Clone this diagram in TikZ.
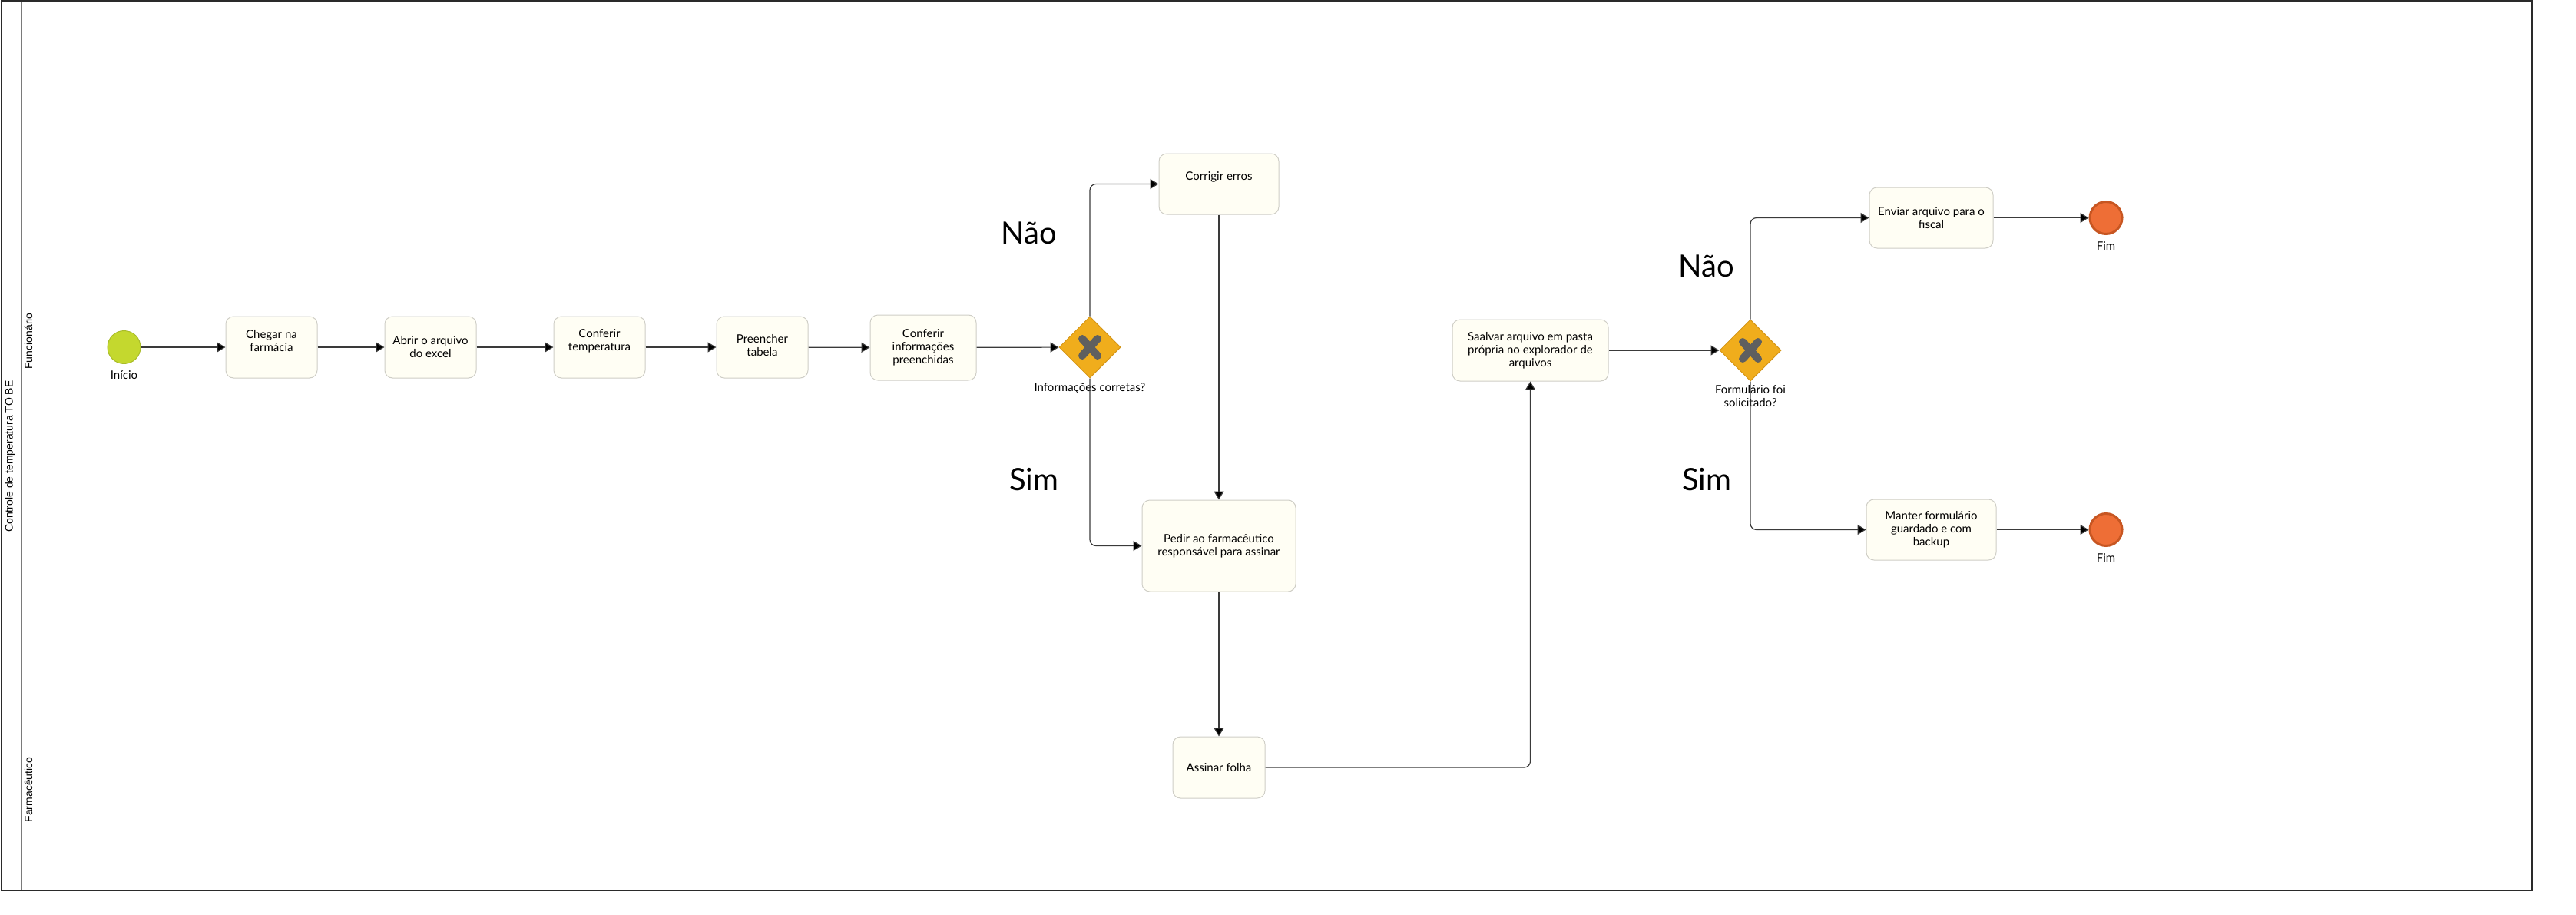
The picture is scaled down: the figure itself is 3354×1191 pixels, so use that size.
\documentclass[tikz,border=0pt]{standalone}
\usepackage{fontspec}
\setmainfont{Lato}
\newfontfamily\lanefont{Liberation Sans}
\usetikzlibrary{shapes.geometric,arrows.meta}
\definecolor{taskfill}{HTML}{FFFEF4}
\definecolor{taskline}{HTML}{CFCEC6}
\definecolor{gwfill}{HTML}{F0AD1C}
\definecolor{gwline}{HTML}{D4961A}
\definecolor{gwx}{HTML}{5F5F5F}
\definecolor{startfill}{HTML}{C4D82E}
\definecolor{startline}{HTML}{A9BC2A}
\definecolor{endfill}{HTML}{EE6E36}
\definecolor{endline}{HTML}{C75622}
\definecolor{flowcol}{HTML}{3A3A3A}
\definecolor{framecol}{HTML}{2A2A2A}
\definecolor{lanecol}{HTML}{7A7A7A}
\tikzset{
  task/.style={draw=taskline, fill=taskfill, rounded corners=10pt, line width=1pt, inner sep=0pt},
  tt/.style={font=\fontsize{15}{17}\selectfont, align=center, text=black},
  gate/.style={diamond, draw=gwline, fill=gwfill, line width=1pt, minimum width=80pt, minimum height=80pt, inner sep=0pt},
  startev/.style={circle, draw=startline, fill=startfill, line width=1pt, minimum size=43pt, inner sep=0pt},
  endev/.style={circle, draw=endline, fill=endfill, line width=3pt, minimum size=42pt, inner sep=0pt},
  flow/.style={draw=flowcol, line width=1.2pt, rounded corners=8pt, -{Triangle[length=11pt,width=13pt,fill=black]}},
  evlabel/.style={font=\fontsize{15}{17}\selectfont, align=center},
  big/.style={font=\fontsize{40}{44}\selectfont, inner sep=0pt},
  lanelabel/.style={font=\lanefont\fontsize{14}{16}\selectfont, rotate=90},
}
\begin{document}
\begin{tikzpicture}[x=1pt, y=-1pt]
\useasboundingbox (0,0) rectangle (3354,1191);
% pool and lanes
\draw[lanecol, line width=1pt] (28,895) -- (3297,895);
\draw[lanecol, line width=1.5pt] (28,1) -- (28,1159);
\draw[framecol, line width=2pt] (2,1) rectangle (3297,1159);
\node[lanelabel] (pool) at (13,594) {Controle de temperatura TO BE};
\node[lanelabel] (lane1) at (37,444) {Funcionário};
\node[lanelabel] (lane2) at (37,1028) {Farmacêutico};

% start
\node[startev] (start) at (161.5,452) {};
\node[evlabel] (startlbl) at (161.5,488) {Início};

% tasks
\node[task, minimum width=119pt, minimum height=80pt, label={[tt,yshift=8pt]center:Chegar na\\farmácia}] (t1) at (353.5,452) {};
\node[task, minimum width=119pt, minimum height=80pt, label={[tt]center:Abrir o arquivo\\do excel}] (t2) at (560.5,452) {};
\node[task, minimum width=119pt, minimum height=80pt, label={[tt,yshift=8pt]center:Conferir\\temperatura}] (t3) at (780.5,452) {};
\node[task, minimum width=119pt, minimum height=80pt, label={[tt,yshift=2pt]center:Preencher\\tabela}] (t4) at (992.5,452) {};
\node[task, minimum width=138pt, minimum height=85pt, label={[tt]center:Conferir\\informações\\preenchidas}] (t5) at (1202,452.5) {};

% gateway 1
\node[gate] (g1) at (1419,452) {};
\draw[gwx, line width=10pt, line cap=round] ([shift={(-10,-11)}]g1.center) -- ([shift={(10,11)}]g1.center);
\draw[gwx, line width=10pt, line cap=round] ([shift={(-10,11)}]g1.center) -- ([shift={(10,-11)}]g1.center);
\node[evlabel] (g1lbl) at (1419,505) {Informações corretas?};

\node[task, minimum width=156pt, minimum height=79pt, label={[tt,yshift=9pt]center:Corrigir erros}] (t6) at (1587,239.5) {};
\node[task, minimum width=200pt, minimum height=119pt, label={[tt]center:Pedir ao farmacêutico\\responsável para assinar}] (t7) at (1587,710.5) {};
\node[task, minimum width=120pt, minimum height=80pt, label={[tt]center:Assinar folha}] (t8) at (1587,999) {};
\node[task, minimum width=203pt, minimum height=80pt, label={[tt]center:Saalvar arquivo em pasta\\própria no explorador de\\arquivos}] (t9) at (1992.5,456) {};

% gateway 2
\node[gate] (g2) at (2279,456) {};
\draw[gwx, line width=10pt, line cap=round] ([shift={(-10,-11)}]g2.center) -- ([shift={(10,11)}]g2.center);
\draw[gwx, line width=10pt, line cap=round] ([shift={(-10,11)}]g2.center) -- ([shift={(10,-11)}]g2.center);
\node[evlabel] (g2lbl) at (2279,516) {Formulário foi\\solicitado?};

\node[task, minimum width=161pt, minimum height=79pt, label={[tt]center:Enviar arquivo para o\\fiscal}] (t10) at (2514.5,283.5) {};
\node[task, minimum width=169pt, minimum height=79pt, label={[tt]center:Manter formulário\\guardado e com\\backup}] (t11) at (2514.5,689.5) {};

% end events
\node[endev] (e1) at (2742,283.5) {};
\node[evlabel] (e1lbl) at (2742,320) {Fim};
\node[endev] (e2) at (2742,689.5) {};
\node[evlabel] (e2lbl) at (2742,726) {Fim};

% big labels
\node[big] (nao1) at (1340,303) {Não};
\node[big] (sim1) at (1346,624) {Sim};
\node[big] (nao2) at (2222,346) {Não};
\node[big] (sim2) at (2222,624) {Sim};

% flows
\draw[flow] (start) -- (t1);
\draw[flow] (t1) -- (t2);
\draw[flow] (t2) -- (t3);
\draw[flow] (t3) -- (t4);
\draw[flow] (t4) -- (t5);
\draw[flow] (t5) -- (g1);
\draw[flow] (g1.north) |- (t6.west);
\draw[flow] (g1.south) |- (t7.west);
\draw[flow] (t6) -- (t7);
\draw[flow] (t7) -- (t8);
\draw[flow] (t8.east) -| (t9.south);
\draw[flow] (t9) -- (g2);
\draw[flow] (g2.north) |- (t10.west);
\draw[flow] (g2.south) |- (t11.west);
\draw[flow] (t10) -- (e1);
\draw[flow] (t11) -- (e2);
\end{tikzpicture}
\end{document}
